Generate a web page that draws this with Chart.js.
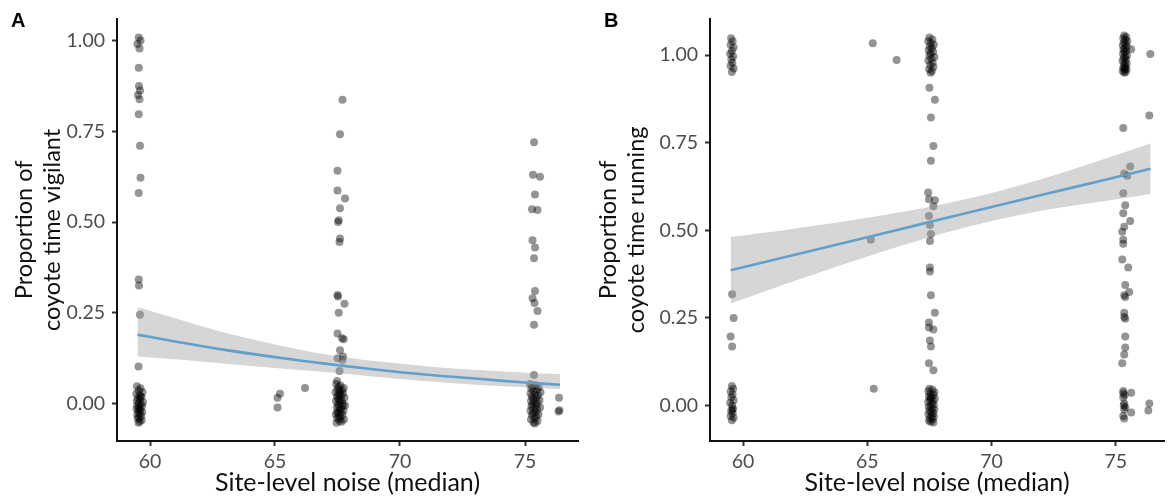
<!DOCTYPE html>
<html>
<head>
<meta charset="utf-8">
<script src="https://cdn.jsdelivr.net/npm/chart.js@4.4.1/dist/chart.umd.min.js"></script>
<style>
  body { margin: 0; background: #fff; }
  #wrap { position: relative; width: 1168px; height: 504px; overflow: hidden; }
  .panel { position: absolute; top: 0; width: 584px; height: 504px; }
  .tag { position: absolute; top: 9px; font: bold 20px "Liberation Sans", Arial, sans-serif; color: #000; }
</style>
</head>
<body>
<div id="wrap">
  <div class="panel" style="left:0"><canvas id="chartA" width="584" height="504"></canvas></div>
  <div class="panel" style="left:584px"><canvas id="chartB" width="584" height="504"></canvas></div>
  <div class="tag" style="left:11px">A</div>
  <div class="tag" style="left:604px">B</div>
</div>
<script>
// axis ticks shared by both panels
const noiseTicks = [60, 65, 70, 75];
const propTicks = [0, 0.25, 0.5, 0.75, 1];
const propTickLabels = ['0.00', '0.25', '0.50', '0.75', '1.00'];

// panel A: proportion of coyote time vigilant, per observation [noise, proportion]
const vigilantPoints = [
  [59.55,1.008],[59.62,1.000],[59.50,0.990],[59.58,0.978],[59.55,0.925],[59.56,0.875],
  [59.60,0.862],[59.52,0.850],[59.58,0.838],[59.55,0.797],[59.60,0.710],[59.62,0.622],
  [59.55,0.580],[59.55,0.342],[59.56,0.325],[59.60,0.245],[59.54,0.102],
  [59.48,0.048],[59.62,0.042],[59.55,0.036],[59.70,0.031],[59.45,0.027],[59.58,0.022],
  [59.66,0.018],[59.52,0.015],[59.60,0.011],[59.47,0.007],[59.72,0.004],[59.55,0.001],
  [59.63,-0.002],[59.50,-0.005],[59.68,-0.008],[59.57,-0.011],[59.46,-0.014],[59.61,-0.018],
  [59.53,-0.021],[59.69,-0.024],[59.58,-0.027],[59.49,-0.031],[59.64,-0.034],[59.56,-0.038],
  [59.51,-0.041],[59.67,-0.045],[59.59,-0.049],[59.54,-0.053],[59.62,0.020],[59.57,-0.016],
  [65.20,0.027],[65.10,0.016],[65.10,-0.011],[66.20,0.043],
  [67.70,0.837],[67.60,0.742],[67.50,0.641],[67.50,0.587],[67.80,0.565],[67.60,0.538],
  [67.55,0.505],[67.52,0.500],[67.60,0.455],[67.58,0.445],[67.50,0.299],[67.52,0.295],
  [67.78,0.275],[67.55,0.250],[67.50,0.193],[67.68,0.180],[67.75,0.177],[67.60,0.147],
  [67.72,0.130],[67.50,0.125],[67.70,0.120],[67.58,0.090],[67.48,0.062],
  [67.45,0.054],[67.62,0.050],[67.55,0.046],[67.75,0.043],[67.50,0.040],[67.68,0.037],
  [67.58,0.034],[67.42,0.031],[67.72,0.028],[67.53,0.025],[67.64,0.022],[67.48,0.019],
  [67.78,0.016],[67.57,0.013],[67.66,0.010],[67.44,0.007],[67.60,0.004],[67.70,0.001],
  [67.52,-0.002],[67.80,-0.005],[67.56,-0.008],[67.47,-0.011],[67.65,-0.014],[67.59,-0.017],
  [67.74,-0.020],[67.50,-0.023],[67.63,-0.026],[67.43,-0.029],[67.69,-0.032],[67.55,-0.035],
  [67.61,-0.038],[67.49,-0.041],[67.76,-0.044],[67.58,-0.047],[67.66,-0.050],[67.46,-0.053],
  [67.54,0.012],[67.71,-0.006],[67.60,0.030],[67.52,-0.025],
  [75.36,0.720],[75.32,0.630],[75.60,0.625],[75.40,0.576],[75.28,0.535],[75.50,0.533],
  [75.30,0.450],[75.40,0.430],[75.36,0.400],[75.40,0.310],[75.30,0.290],[75.38,0.277],
  [75.50,0.255],[75.36,0.217],[75.36,0.079],
  [75.20,0.054],[75.42,0.051],[75.30,0.047],[75.55,0.044],[75.25,0.041],[75.48,0.038],
  [75.35,0.035],[75.62,0.031],[75.22,0.028],[75.40,0.025],[75.52,0.022],[75.28,0.019],
  [75.45,0.016],[75.33,0.013],[75.58,0.010],[75.24,0.007],[75.38,0.004],[75.50,0.001],
  [75.30,-0.002],[75.44,-0.005],[75.26,-0.008],[75.60,-0.011],[75.36,-0.014],[75.48,-0.017],
  [75.22,-0.020],[75.42,-0.023],[75.32,-0.026],[75.54,-0.029],[75.28,-0.032],[75.46,-0.036],
  [75.38,-0.040],[75.24,-0.044],[75.50,-0.048],[75.34,-0.052],[75.40,-0.055],
  [76.36,0.016],[76.38,-0.018],[76.34,-0.022]
];

// panel A fitted curve and its confidence band
const vigilantFitNoise = [59.5, 61, 63, 65, 67, 69, 71, 73, 75, 76.4];
const vigilantFit      = [0.190, 0.171, 0.148, 0.128, 0.110, 0.094, 0.080, 0.069, 0.058, 0.052];
const vigilantUpper    = [0.265, 0.235, 0.195, 0.163, 0.136, 0.117, 0.103, 0.093, 0.085, 0.081];
const vigilantLower    = [0.130, 0.122, 0.110, 0.098, 0.087, 0.074, 0.062, 0.052, 0.045, 0.040];

// panel B: proportion of coyote time running, per observation [noise, proportion]
const runningPoints = [
  [59.52,1.048],[59.58,1.040],[59.50,1.030],[59.62,1.022],[59.55,1.012],[59.48,1.004],
  [59.60,0.996],[59.53,0.988],[59.57,0.978],[59.50,0.970],[59.62,0.962],[59.55,0.952],
  [59.56,0.318],[59.62,0.250],[59.50,0.197],[59.56,0.169],
  [59.55,0.056],[59.60,0.048],[59.50,0.040],[59.58,0.032],[59.53,0.024],[59.62,0.015],
  [59.48,0.008],[59.56,0.000],[59.60,-0.008],[59.52,-0.015],[59.58,-0.022],[59.50,-0.030],
  [59.62,-0.035],[59.55,-0.042],[59.57,-0.012],
  [65.22,1.034],[66.18,0.986],[65.14,0.473],[65.26,0.048],
  [67.50,1.050],[67.62,1.045],[67.45,1.040],[67.56,1.035],[67.68,1.030],[67.52,1.025],
  [67.60,1.020],[67.47,1.015],[67.65,1.010],[67.55,1.005],[67.50,1.000],[67.70,0.995],
  [67.58,0.990],[67.46,0.985],[67.63,0.978],[67.53,0.972],[67.66,0.966],[67.49,0.960],
  [67.60,0.955],[67.55,0.950],
  [67.50,0.907],[67.72,0.873],[67.56,0.822],[67.66,0.741],[67.56,0.699],[67.45,0.608],
  [67.48,0.589],[67.72,0.586],[67.66,0.569],[67.48,0.541],[67.52,0.515],[67.56,0.490],
  [67.52,0.470],[67.52,0.394],[67.52,0.383],[67.56,0.315],[67.72,0.265],[67.48,0.237],
  [67.48,0.223],[67.66,0.217],[67.52,0.186],[67.56,0.169],[67.48,0.121],[67.66,0.101],
  [67.50,0.048],[67.62,0.045],[67.46,0.041],[67.70,0.038],[67.55,0.034],[67.66,0.031],
  [67.48,0.027],[67.58,0.024],[67.72,0.020],[67.52,0.017],[67.64,0.013],[67.45,0.010],
  [67.60,0.006],[67.68,0.003],[67.54,-0.001],[67.47,-0.004],[67.62,-0.008],[67.70,-0.011],
  [67.50,-0.015],[67.57,-0.018],[67.65,-0.022],[67.46,-0.025],[67.59,-0.029],[67.68,-0.032],
  [67.52,-0.036],[67.63,-0.039],[67.48,-0.043],[67.56,-0.046],[67.66,-0.048],[67.54,0.022],
  [75.34,1.056],[75.42,1.052],[75.30,1.048],[75.38,1.044],[75.46,1.040],[75.33,1.036],
  [75.40,1.032],[75.28,1.028],[75.44,1.024],[75.36,1.020],[75.31,1.016],[75.42,1.012],
  [75.35,1.008],[75.29,1.004],[75.45,1.000],[75.38,0.996],[75.32,0.992],[75.41,0.988],
  [75.27,0.984],[75.36,0.980],[75.44,0.976],[75.33,0.972],[75.39,0.968],[75.30,0.964],
  [75.43,0.960],[75.35,0.958],[75.28,0.955],[75.40,0.952],[75.34,0.950],[75.37,0.962],
  [75.62,1.017],[76.39,1.003],[76.35,0.828],[75.30,0.792],[75.58,0.682],[75.34,0.662],
  [75.46,0.656],[75.30,0.606],[75.38,0.572],[75.30,0.549],[75.58,0.527],[75.34,0.510],
  [75.26,0.496],[75.30,0.473],[75.30,0.462],[75.26,0.417],[75.50,0.394],[75.38,0.344],
  [75.54,0.324],[75.34,0.315],[75.38,0.310],[75.34,0.265],[75.34,0.253],[75.38,0.248],
  [75.38,0.197],[75.38,0.166],[75.34,0.146],[75.26,0.121],
  [75.30,0.042],[75.62,0.037],[75.30,0.023],[75.34,0.006],[75.34,-0.011],[75.62,-0.020],
  [75.34,-0.037],[75.30,0.035],[75.36,0.030],[75.32,0.000],[75.38,-0.005],[75.30,-0.030],
  [76.35,0.006],[76.31,-0.014]
];

// panel B fitted line and its confidence band
const runningFitNoise = [59.5, 62, 64.5, 67, 69.5, 72, 74.5, 76.4];
const runningFit      = [0.386, 0.429, 0.472, 0.515, 0.558, 0.601, 0.643, 0.676];
const runningUpper    = [0.481, 0.504, 0.530, 0.560, 0.598, 0.646, 0.703, 0.748];
const runningLower    = [0.291, 0.354, 0.414, 0.470, 0.518, 0.556, 0.583, 0.604];

const FONT = 'Lato, "Open Sans", sans-serif';
const toXY = (xs, ys) => xs.map((x, i) => ({ x: x, y: ys[i] }));

function makePanel(canvasId, cfg) {
  const tickFont = { family: FONT, size: 19.5 };
  const axisGrid = {
    drawOnChartArea: false,
    drawTicks: true,
    tickLength: 5,
    tickWidth: 2,
    tickColor: '#333'
  };
  const axisBorder = { display: true, color: '#111', width: 2 };

  return new Chart(document.getElementById(canvasId), {
    type: 'scatter',
    data: {
      datasets: [
        {
          type: 'line',
          data: toXY(cfg.fitX, cfg.fit),
          borderColor: '#62a0cc',
          borderWidth: 2.6,
          pointRadius: 0,
          fill: false,
          tension: 0.3
        },
        {
          type: 'line',
          data: toXY(cfg.fitX, cfg.upper),
          borderWidth: 0,
          pointRadius: 0,
          backgroundColor: 'rgba(153,153,153,0.4)',
          fill: '+1',
          tension: 0.3
        },
        {
          type: 'line',
          data: toXY(cfg.fitX, cfg.lower),
          borderWidth: 0,
          pointRadius: 0,
          fill: false,
          tension: 0.3
        },
        {
          data: cfg.points.map(p => ({ x: p[0], y: p[1] })),
          pointRadius: 4,
          borderWidth: 0,
          backgroundColor: 'rgba(0,0,0,0.42)'
        }
      ]
    },
    options: {
      responsive: false,
      animation: false,
      events: [],
      layout: { padding: { top: 13, right: cfg.padRight, left: 0, bottom: 0 } },
      plugins: { legend: { display: false }, tooltip: { enabled: false } },
      scales: {
        x: {
          type: 'linear',
          min: cfg.xMin,
          max: cfg.xMax,
          afterBuildTicks: s => { s.ticks = noiseTicks.map(v => ({ value: v })); },
          afterFit: s => { s.height = 63; },
          grid: axisGrid,
          border: axisBorder,
          ticks: { color: '#4d4d4d', font: tickFont, padding: 4, maxRotation: 0 },
          title: {
            display: true,
            text: 'Site-level noise (median)',
            color: '#111',
            font: { family: FONT, size: 25 },
            padding: { top: 0, bottom: 6 }
          }
        },
        y: {
          type: 'linear',
          min: cfg.yMin,
          max: cfg.yMax,
          afterBuildTicks: s => { s.ticks = propTicks.map(v => ({ value: v })); },
          afterFit: s => { s.width = cfg.yWidth; },
          grid: axisGrid,
          border: axisBorder,
          ticks: {
            color: '#4d4d4d',
            font: tickFont,
            padding: 7,
            callback: (v, i) => propTickLabels[i]
          },
          title: {
            display: true,
            text: ['Proportion of', cfg.yTitle],
            color: '#111',
            font: { family: FONT, size: 23.5 },
            padding: { top: 10, bottom: 0 }
          }
        }
      }
    }
  });
}

makePanel('chartA', {
  points: vigilantPoints,
  fitX: vigilantFitNoise, fit: vigilantFit, upper: vigilantUpper, lower: vigilantLower,
  xMin: 58.68, xMax: 77.12, yMin: -0.103, yMax: 1.06,
  yWidth: 117, padRight: 6,
  yTitle: 'coyote time vigilant'
});

makePanel('chartB', {
  points: runningPoints,
  fitX: runningFitNoise, fit: runningFit, upper: runningUpper, lower: runningLower,
  xMin: 58.67, xMax: 76.94, yMin: -0.101, yMax: 1.104,
  yWidth: 126, padRight: 3,
  yTitle: 'coyote time running'
});
</script>
</body>
</html>
